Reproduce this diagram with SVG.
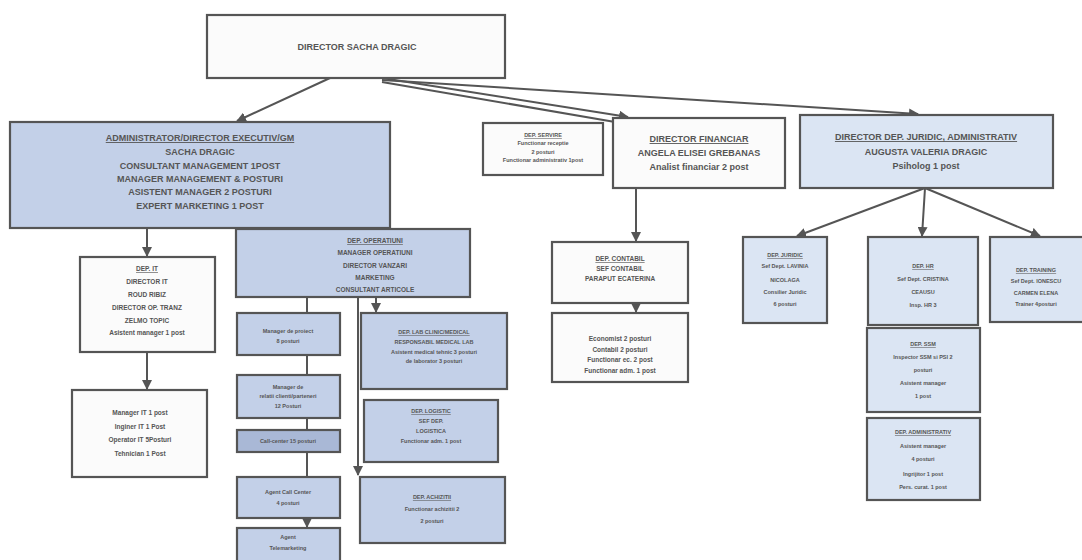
<svg xmlns="http://www.w3.org/2000/svg" width="1082" height="560" viewBox="0 0 1082 560">
<defs>
<marker id="ah" viewBox="0 0 10 10" refX="9" refY="5" markerWidth="5" markerHeight="5" orient="auto"><path d="M0,0 L10,5 L0,10 z" fill="#555"/></marker>
<style>
.w{fill:#fbfbfb;stroke:#555;stroke-width:2.2}
.b{fill:#c3d0e8;stroke:#555;stroke-width:2.2}
.lb{fill:#dbe5f3;stroke:#555;stroke-width:2.2}
text{font-family:"Liberation Sans",Arial,sans-serif;font-weight:bold;fill:#555;text-anchor:middle}
.t9{font-size:9px}
.t8{font-size:7.5px}
.t7{font-size:6.5px}
.t6{font-size:5.5px}
.c line,.c polyline{stroke:#555;stroke-width:2;fill:none}
</style>
</defs>
<rect width="1082" height="560" fill="#fff"/>
<g class="c" id="connectors">
<line x1="330" y1="78" x2="237" y2="121" marker-end="url(#ah)"/>
<line x1="382" y1="78" x2="628" y2="117" marker-end="url(#ah)"/>
<line x1="382" y1="80" x2="918" y2="114" marker-end="url(#ah)"/>
<line x1="382" y1="82" x2="615" y2="122"/>
<line x1="147" y1="228" x2="147" y2="256" marker-end="url(#ah)"/>
<line x1="147" y1="352" x2="147" y2="389" marker-end="url(#ah)"/>
<line x1="636" y1="188" x2="636" y2="241" marker-end="url(#ah)"/>
<line x1="636" y1="303" x2="636" y2="312" marker-end="url(#ah)"/>
<line x1="925" y1="188" x2="797" y2="236" marker-end="url(#ah)"/>
<line x1="925" y1="188" x2="922" y2="236" marker-end="url(#ah)"/>
<line x1="925" y1="188" x2="1040" y2="236" marker-end="url(#ah)"/>
<line x1="307" y1="297" x2="307" y2="313"/>
<line x1="307" y1="355" x2="307" y2="375"/>
<line x1="307" y1="418" x2="307" y2="430"/>
<line x1="307" y1="452" x2="307" y2="477"/>
<line x1="307" y1="518" x2="307" y2="527" marker-end="url(#ah)"/>
<line x1="358" y1="297" x2="358" y2="475" marker-end="url(#ah)"/>
<line x1="376" y1="297" x2="376" y2="312" marker-end="url(#ah)"/>
</g>
<g id="director"><rect class="w" x="207" y="15" width="298" height="63"/><text class="t9" x="357" y="50">DIRECTOR SACHA DRAGIC</text></g>
<g id="admin"><rect class="b" x="10" y="122" width="380" height="106"/>
<text class="t9" x="200" y="141" text-decoration="underline">ADMINISTRATOR/DIRECTOR EXECUTIV/GM</text>
<text class="t9" x="200" y="155">SACHA DRAGIC</text>
<text class="t9" x="200" y="169">CONSULTANT MANAGEMENT 1POST</text>
<text class="t9" x="200" y="182">MANAGER MANAGEMENT &amp; POSTURI</text>
<text class="t9" x="200" y="195">ASISTENT MANAGER 2 POSTURI</text>
<text class="t9" x="200" y="209">EXPERT MARKETING 1 POST</text></g>
<g id="servire"><rect class="w" x="483" y="123" width="120" height="52"/>
<text class="t6" x="543" y="137" text-decoration="underline">DEP. SERVIRE</text>
<text class="t6" x="543" y="145">Functionar receptie</text>
<text class="t6" x="543" y="154">2 posturi</text>
<text class="t6" x="543" y="162">Functionar administrativ 1post</text></g>
<g id="financiar"><rect class="w" x="613" y="118" width="172" height="70"/>
<text class="t9" x="699" y="142" text-decoration="underline">DIRECTOR FINANCIAR</text>
<text class="t9" x="699" y="156">ANGELA ELISEI GREBANAS</text>
<text class="t9" x="699" y="170">Analist financiar 2 post</text></g>
<g id="hrdir"><rect class="lb" x="800" y="115" width="253" height="73"/>
<text class="t9" x="926" y="140" text-decoration="underline">DIRECTOR DEP. JURIDIC, ADMINISTRATIV</text>
<text class="t9" x="926" y="155">AUGUSTA VALERIA DRAGIC</text>
<text class="t9" x="926" y="169">Psiholog 1 post</text></g>
<g id="depit"><rect class="w" x="80" y="257" width="135" height="95"/>
<text class="t7" x="147" y="271" text-decoration="underline">DEP. IT</text>
<text class="t7" x="147" y="284">DIRECTOR IT</text>
<text class="t7" x="147" y="297">ROUD RIBIZ</text>
<text class="t7" x="147" y="310">DIRECTOR OP. TRANZ</text>
<text class="t7" x="147" y="323">ZELMO TOPIC</text>
<text class="t7" x="147" y="335">Asistent manager 1 post</text></g>
<g id="itstaff"><rect class="w" x="72" y="390" width="135" height="87"/>
<text class="t7" x="140" y="415">Manager IT 1 post</text>
<text class="t7" x="140" y="429">Inginer IT 1 Post</text>
<text class="t7" x="140" y="442">Operator IT 5Posturi</text>
<text class="t7" x="140" y="456">Tehnician 1 Post</text></g>
<g id="operatii"><rect class="b" x="236" y="229" width="234" height="68"/>
<text class="t7" x="375" y="243" text-decoration="underline">DEP. OPERATIUNI</text>
<text class="t7" x="375" y="255">MANAGER OPERATIUNI</text>
<text class="t7" x="375" y="268">DIRECTOR VANZARI</text>
<text class="t7" x="375" y="280">MARKETING</text>
<text class="t7" x="375" y="292">CONSULTANT ARTICOLE</text></g>
<g id="op1"><rect class="b" x="237" y="313" width="103" height="42"/>
<text class="t6" x="288" y="333">Manager de proiect</text>
<text class="t6" x="288" y="343">8 posturi</text></g>
<g id="op2"><rect class="b" x="237" y="375" width="103" height="43"/>
<text class="t6" x="288" y="389">Manager de</text>
<text class="t6" x="288" y="398">relatii clienti/parteneri</text>
<text class="t6" x="288" y="408">12 Posturi</text></g>
<g id="op3"><rect class="b" x="237" y="430" width="103" height="22" style="fill:#a9b8d6"/>
<text class="t6" x="288" y="443">Call-center 15 posturi</text></g>
<g id="op4"><rect class="b" x="237" y="477" width="103" height="41"/>
<text class="t6" x="288" y="494">Agent Call Center</text>
<text class="t6" x="288" y="505">4 posturi</text></g>
<g id="op5"><rect class="b" x="237" y="528" width="103" height="40"/>
<text class="t6" x="288" y="539">Agent</text>
<text class="t6" x="288" y="550">Telemarketing</text></g>
<g id="lab"><rect class="b" x="361" y="313" width="146" height="76"/>
<text class="t6" x="434" y="334" text-decoration="underline">DEP. LAB CLINIC/MEDICAL</text>
<text class="t6" x="434" y="344">RESPONSABIL MEDICAL LAB</text>
<text class="t6" x="434" y="354">Asistent medical tehnic 3 posturi</text>
<text class="t6" x="434" y="363">de laborator 3 posturi</text></g>
<g id="logistic"><rect class="b" x="364" y="400" width="134" height="62"/>
<text class="t6" x="431" y="413" text-decoration="underline">DEP. LOGISTIC</text>
<text class="t6" x="431" y="423">SEF DEP.</text>
<text class="t6" x="431" y="433">LOGISTICA</text>
<text class="t6" x="431" y="443">Functionar adm. 1 post</text></g>
<g id="achizitii"><rect class="b" x="360" y="477" width="145" height="66"/>
<text class="t6" x="432" y="499" text-decoration="underline">DEP. ACHIZITII</text>
<text class="t6" x="432" y="511">Functionar achizitii 2</text>
<text class="t6" x="432" y="523">2 posturi</text></g>
<g id="contabil"><rect class="w" x="552" y="242" width="136" height="61"/>
<text class="t7" x="620" y="261" text-decoration="underline">DEP. CONTABIL</text>
<text class="t7" x="620" y="271">SEF CONTABIL</text>
<text class="t7" x="620" y="281">PARAPUT ECATERINA</text></g>
<g id="contstaff"><rect class="w" x="552" y="313" width="136" height="69"/>
<text class="t7" x="620" y="341">Economist 2 posturi</text>
<text class="t7" x="620" y="352">Contabil 2 posturi</text>
<text class="t7" x="620" y="362">Functionar ec. 2 post</text>
<text class="t7" x="620" y="373">Functionar adm. 1 post</text></g>
<g id="juridic"><rect class="lb" x="743" y="237" width="84" height="86"/>
<text class="t6" x="785" y="257" text-decoration="underline">DEP. JURIDIC</text>
<text class="t6" x="785" y="268">Sef Dept. LAVINIA</text>
<text class="t6" x="785" y="282">NICOLAGA</text>
<text class="t6" x="785" y="294">Consilier Juridic</text>
<text class="t6" x="785" y="306">6 posturi</text></g>
<g id="hr"><rect class="lb" x="868" y="237" width="110" height="88"/>
<text class="t6" x="923" y="268" text-decoration="underline">DEP. HR</text>
<text class="t6" x="923" y="281">Sef Dept. CRISTINA</text>
<text class="t6" x="923" y="294">CEAUSU</text>
<text class="t6" x="923" y="307">Insp. HR 3</text></g>
<g id="training"><rect class="lb" x="990" y="237" width="100" height="85"/>
<text class="t6" x="1036" y="272" text-decoration="underline">DEP. TRAINING</text>
<text class="t6" x="1036" y="283">Sef Dept. IONESCU</text>
<text class="t6" x="1036" y="295">CARMEN ELENA</text>
<text class="t6" x="1036" y="306">Trainer 4posturi</text></g>
<g id="ssm"><rect class="lb" x="867" y="328" width="113" height="84"/>
<text class="t6" x="923" y="346" text-decoration="underline">DEP. SSM</text>
<text class="t6" x="923" y="359">Inspector SSM si PSI 2</text>
<text class="t6" x="923" y="372">posturi</text>
<text class="t6" x="923" y="385">Asistent manager</text>
<text class="t6" x="923" y="398">1 post</text></g>
<g id="administrativ"><rect class="lb" x="867" y="418" width="113" height="82"/>
<text class="t6" x="923" y="434" text-decoration="underline">DEP. ADMINISTRATIV</text>
<text class="t6" x="923" y="448">Asistent manager</text>
<text class="t6" x="923" y="461">4 posturi</text>
<text class="t6" x="923" y="476">Ingrijitor 1 post</text>
<text class="t6" x="923" y="489">Pers. curat. 1 post</text></g>
</svg>
